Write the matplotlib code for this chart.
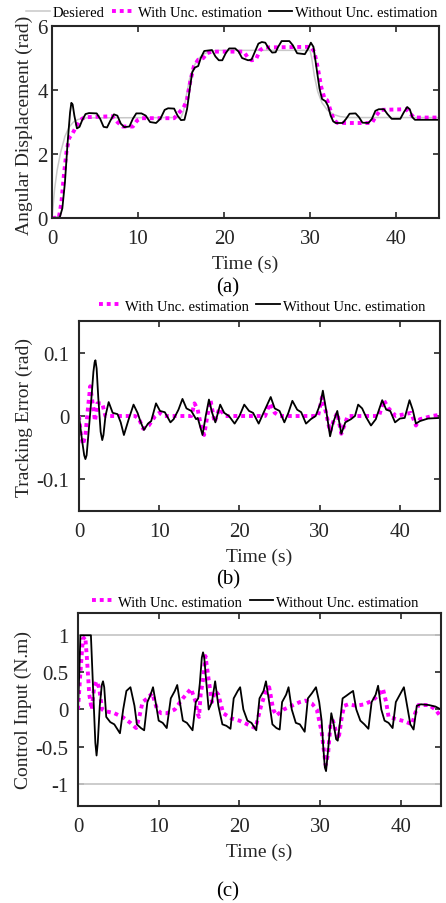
import numpy as np
import matplotlib
matplotlib.use("Agg")
import matplotlib.pyplot as plt

# ---------------- data ----------------
# (a) angular displacement
t_des = [0, 0.3, 0.6, 1.0, 1.5, 2.0, 2.5, 3.0, 4.0, 15.0, 15.3, 15.6, 16.0, 16.5, 17.0, 17.6,
         18.5, 19.5, 30.0, 30.2, 30.5, 30.9, 31.4, 32.0, 32.7, 33.5, 34.5, 45]
y_des = [0, 0.9, 1.5, 2.05, 2.55, 2.85, 3.0, 3.08, 3.13, 3.14, 3.35, 3.8, 4.35, 4.75, 4.97, 5.12,
         5.22, 5.24, 5.24, 5.0, 4.45, 3.95, 3.6, 3.38, 3.24, 3.17, 3.14, 3.14]

t_with_a = [0, 0.8, 1.1, 1.4, 1.7, 2.0, 2.4, 2.8, 3.2, 3.8, 7.0, 7.6, 8.2, 9.4, 9.9, 10.4, 14.2,
            14.8, 15.3, 15.7, 16.1, 16.5, 17.0, 17.6, 18.0, 18.6, 22.3, 22.8, 23.2, 23.7, 24.2,
            24.7, 30.1, 30.5, 30.9, 31.3, 31.7, 32.0, 32.4, 32.8, 33.2, 37.2, 37.7, 38.2, 41.2,
            41.7, 42.1, 45]
y_with_a = [0, 0.02, 0.5, 1.4, 2.1, 2.5, 2.65, 2.85, 3.05, 3.15, 3.18, 3.0, 2.86, 2.86, 3.05, 3.12,
            3.12, 3.3, 3.45, 3.7, 4.3, 4.75, 4.95, 5.0, 5.15, 5.2, 5.2, 5.0, 4.93, 4.95, 5.25,
            5.33, 5.35, 5.2, 4.7, 4.1, 3.72, 3.68, 3.35, 3.05, 2.97, 2.97, 3.2, 3.38, 3.4,
            3.25, 3.14, 3.14]

t_wo_a = [0, 0.9, 1.2, 1.5, 1.8, 2.1, 2.25, 2.4, 2.6, 2.9, 3.2, 3.5, 3.9, 4.3, 5.2, 5.6, 6.0, 6.4,
          6.8, 7.2, 7.6, 8.0, 8.4, 9.0, 9.4, 9.8, 10.4, 10.9, 11.4, 12.1, 12.6, 13.1, 13.5, 14.2,
          14.6, 15.0, 15.4, 15.7, 16.0, 16.3, 16.6, 17.0, 17.3, 17.7, 18.6, 19.0, 19.4, 19.8, 20.2,
          20.6, 21.3, 21.7, 22.1, 22.8, 23.2, 23.6, 24.0, 24.4, 24.8, 25.2, 25.6, 26.0, 26.3, 26.7,
          27.6, 28.0, 28.5, 29.4, 29.8, 30.1, 30.4, 30.7, 31.1, 31.4, 31.8, 32.1, 32.4, 32.7, 33.0,
          33.8, 34.2, 34.6, 35.3, 35.7, 36.1, 36.8, 37.2, 37.6, 38.0, 38.6, 39.0, 39.5, 40.5, 40.9,
          41.3, 41.6, 41.9, 42.2, 45]
y_wo_a = [0, 0.02, 0.3, 1.1, 2.3, 3.3, 3.6, 3.55, 3.2, 2.8, 2.85, 3.05, 3.25, 3.28, 3.27, 3.1, 2.85,
          2.83, 3.05, 3.24, 3.2, 2.95, 2.84, 2.86, 3.1, 3.27, 3.27, 3.2, 3.0, 2.97, 3.1, 3.38, 3.43,
          3.42, 3.2, 3.06, 3.07, 3.4, 4.0, 4.55, 4.7, 4.75, 5.0, 5.22, 5.25, 5.05, 4.93, 4.93, 5.15,
          5.3, 5.3, 5.2, 5.0, 4.93, 4.95, 5.2, 5.45, 5.5, 5.48, 5.3, 5.17, 5.18, 5.35, 5.53, 5.53,
          5.4, 5.15, 5.12, 5.3, 5.48, 5.35, 4.8, 4.05, 3.72, 3.65, 3.5, 3.2, 3.02, 2.97, 2.97, 3.1,
          3.26, 3.27, 3.15, 2.98, 2.97, 3.1, 3.35, 3.4, 3.4, 3.25, 3.1, 3.1, 3.3, 3.47, 3.4, 3.15,
          3.07, 3.07]

# (b) tracking error
t_with_b = [0, 0.25, 0.5, 0.8, 1.1, 1.4, 1.7, 2.0, 2.3, 2.9, 3.3, 4.0, 7.0, 7.5, 8.0, 8.7, 9.5, 10.0,
            10.6, 14.0, 14.4, 14.8, 15.2, 15.6, 16.0, 16.4, 16.9, 17.5, 18.2, 23.2, 23.8, 24.4,
            25.0, 29.8, 30.3, 30.8, 31.3, 31.8, 32.2, 32.7, 33.5, 37.4, 38.0, 38.6, 39.5, 41.4,
            42.0, 42.5, 44.0, 45]
e_with_b = [0, -0.03, -0.045, -0.03, 0.01, 0.047, 0.02, -0.008, 0.02, 0.02, 0.0, 0.0, 0.0, -0.005,
            -0.02, -0.015, 0.0, 0.005, 0.0, 0.0, 0.02, 0.01, -0.015, -0.03, 0.0, 0.025, -0.01, 0.012,
            0.0, 0.0, 0.02, 0.005, 0.0, 0.0, 0.03, 0.005, -0.025, -0.005, 0.005, -0.028, 0.0, 0.0,
            0.025, 0.012, 0.0, 0.005, -0.015, -0.005, 0.0, 0.002]

t_wo_b = [0, 0.4, 0.65, 0.8, 0.95, 1.1, 1.5, 1.8, 1.95, 2.05, 2.2, 2.4, 2.7, 2.9, 3.05, 3.3, 3.7,
          4.2, 4.8, 5.2, 5.6, 6.2, 6.8, 7.3, 7.7, 8.1, 8.6, 9.0, 9.6, 10.1, 10.7, 11.4, 11.8, 12.4,
          12.9, 13.4, 14.0, 14.6, 14.8, 15.0, 15.4, 15.8, 16.2, 16.6, 17.0, 17.6, 18.1, 18.7, 19.4,
          20.0, 20.6, 21.2, 21.7, 22.4, 23.0, 23.9, 24.4, 25.0, 25.6, 26.1, 26.6, 27.2, 27.7, 28.3,
          28.9, 29.5, 30.1, 30.4, 30.8, 31.3, 31.7, 32.2, 32.7, 33.2, 33.9, 34.4, 34.8, 35.3, 35.8,
          36.4, 37.0, 37.8, 38.3, 38.8, 39.4, 40.0, 40.6, 41.2, 41.6, 42.0, 42.5, 43.5, 45]
e_wo_b = [0, -0.04, -0.062, -0.068, -0.062, -0.04, 0.02, 0.07, 0.085, 0.088, 0.075, 0.03, -0.025,
          -0.038, -0.03, 0.0, 0.022, 0.005, 0.003, -0.01, -0.03, -0.005, 0.018, 0.005, -0.01,
          -0.022, -0.012, -0.008, 0.02, 0.008, 0.006, -0.01, -0.005, 0.01, 0.027, 0.012, 0.008,
          -0.005, -0.003, -0.012, -0.03, 0.0, 0.026, 0.005, -0.01, 0.018, 0.005, 0.0, -0.012, 0.0,
          0.018, 0.008, 0.005, -0.012, 0.005, 0.03, 0.012, 0.008, -0.01, 0.005, 0.024, 0.01, 0.006,
          -0.012, -0.005, 0.0, 0.02, 0.04, 0.01, -0.032, -0.01, 0.008, -0.028, -0.01, -0.005, 0.0,
          0.018, 0.012, -0.002, -0.015, -0.005, 0.025, 0.01, 0.008, -0.01, -0.004, -0.003, 0.025,
          0.01, -0.012, -0.008, -0.004, -0.003]

# (c) control input
u_limit = 1.0
t_with_c = [0, 0.3, 0.6, 0.9, 1.1, 1.4, 1.7, 2.0, 2.3, 2.6, 3.0, 3.3, 4.5, 5.5, 6.5, 7.2, 7.6, 8.0,
            8.6, 9.2, 9.8, 10.3, 11.0, 12.0, 13.0, 14.0, 14.6, 14.8, 15.0, 15.2, 15.5, 15.8, 16.2,
            16.6, 17.0, 17.4, 18.0, 19.0, 20.0, 21.0, 22.0, 22.7, 23.3, 23.7, 24.2, 24.6, 25.5,
            26.5, 27.5, 28.2, 29.0, 29.6, 30.2, 30.7, 31.0, 31.3, 31.6, 32.0, 32.3, 32.7, 33.0,
            33.5, 34.5, 35.5, 36.5, 37.3, 37.8, 38.2, 38.5, 39.5, 40.5, 41.4, 41.8, 42.2, 43.5,
            44.3, 45]
u_with_c = [0, 0.5, 0.95, 0.98, 0.7, 0.2, 0.0, 0.3, 0.38, 0.3, 0.0, -0.02, -0.05, -0.1, -0.18,
            -0.25, -0.1, 0.1, 0.15, 0.22, 0.0, -0.05, -0.05, 0.0, 0.15, 0.28, 0.1, -0.05, -0.1,
            0.2, 0.4, 0.72, 0.4, 0.1, 0.25, 0.2, -0.05, -0.12, -0.15, -0.2, -0.25, 0.05, 0.25,
            0.3, 0.0, -0.08, 0.0, 0.05, 0.1, 0.12, 0.08, 0.0, -0.3, -0.75, -0.6, -0.2, -0.15,
            -0.3, -0.4, -0.1, 0.05, 0.07, 0.05, 0.07, 0.12, 0.2, 0.28, 0.1, -0.1, -0.13, -0.16,
            -0.2, -0.05, 0.06, 0.06, 0.0, -0.1]

t_wo_c = [0, 0.1, 0.3, 1.6, 1.9, 2.15, 2.3, 2.45, 2.7, 2.95, 3.1, 3.25, 3.5, 4.0, 4.5, 5.2, 5.6, 6.0,
          6.5, 7.0, 7.3, 7.8, 8.2, 8.6, 9.0, 9.3, 9.7, 10.0, 10.5, 11.0, 11.5, 12.0, 12.3, 12.7,
          13.0, 13.5, 14.2, 14.6, 14.9, 15.1, 15.35, 15.5, 15.65, 15.8, 16.2, 16.6, 17.0, 17.4,
          17.9, 18.4, 18.9, 19.3, 19.8, 20.1, 20.5, 21.0, 21.5, 22.1, 22.5, 23.0, 23.3, 23.7, 24.1,
          24.6, 25.0, 25.3, 25.8, 26.1, 26.5, 27.0, 27.5, 28.1, 28.5, 29.0, 29.5, 29.9, 30.2, 30.4,
          30.6, 30.75, 31.0, 31.4, 31.7, 32.0, 32.2, 32.5, 32.8, 33.2, 33.7, 34.1, 34.5, 35.0, 35.5,
          36.0, 36.4, 36.9, 37.2, 37.6, 38.0, 38.5, 39.0, 39.4, 39.9, 40.4, 40.8, 41.2, 41.6, 42.0,
          42.5, 43.5, 44.3, 45]
u_wo_c = [0, 0.3, 1.0, 1.0, 0.2, -0.45, -0.62, -0.45, 0.05, 0.33, 0.38, 0.3, -0.1, -0.17, -0.2,
          -0.32, 0.0, 0.25, 0.3, 0.05, -0.2, -0.25, -0.28, 0.1, 0.2, 0.3, 0.05, -0.15, -0.18, -0.25,
          0.15, 0.25, 0.33, 0.05, -0.15, -0.18, -0.28, 0.1, 0.15, 0.35, 0.7, 0.77, 0.7, 0.5, 0.0,
          0.1, 0.38, 0.05, -0.2, -0.22, -0.26, 0.15, 0.25, 0.3, 0.0, -0.15, -0.18, -0.28, 0.15,
          0.25, 0.38, 0.1, -0.2, -0.25, -0.27, 0.1, 0.2, 0.3, 0.0, -0.18, -0.2, -0.3, 0.15, 0.22,
          0.3, 0.1, -0.15, -0.5, -0.78, -0.83, -0.55, -0.05, -0.2, -0.4, -0.42, -0.15, 0.15, 0.18,
          0.22, 0.25, 0.0, -0.15, -0.2, -0.26, 0.1, 0.2, 0.32, 0.0, -0.15, -0.18, -0.25, 0.1, 0.2,
          0.3, 0.05, -0.2, -0.27, 0.05, 0.07, 0.06, 0.04, 0.0]

# ---------------- style ----------------
plt.rcParams['font.family'] = ['Liberation Serif', 'DejaVu Serif']
plt.rcParams['axes.unicode_minus'] = False

TXT = '#262626'
GRAY = '#c8c8c8'
MAG = '#ff00ff'
DOT = (0, (1, 1))

fig = plt.figure(figsize=(4.46, 9.04), dpi=100)
ax_a = fig.add_axes([0.1166, 0.7577, 0.8677, 0.2124])
ax_b = fig.add_axes([0.1771, 0.4336, 0.8094, 0.2102])
ax_c = fig.add_axes([0.1749, 0.1073, 0.8139, 0.2135])


def style_axes(ax, ypad):
    ax.set_xlim(0, 45)
    ax.set_xticks([0, 10, 20, 30, 40])
    ax.tick_params(direction='in', length=4, width=1.2, top=True, right=True,
                   labelsize=15, colors=TXT)
    ax.tick_params(axis='x', pad=8)
    ax.tick_params(axis='y', pad=ypad)
    for sp in ax.spines.values():
        sp.set_linewidth(1.5)
        sp.set_color(TXT)
    ax.set_xlabel('Time (s)', fontsize=14, color=TXT, labelpad=5)


leg_kw = dict(ncol=3, frameon=False, fontsize=10.5, handlelength=1.6, handletextpad=0.2,
              columnspacing=0.5, borderaxespad=0, borderpad=0, loc='center')

# (a)
ax_a.plot(t_des, y_des, color=GRAY, lw=1.1, label='Desiered')
ax_a.plot(t_with_a, y_with_a, color=MAG, lw=2.8, ls=DOT, label='With Unc. estimation')
ax_a.plot(t_wo_a, y_wo_a, color='black', lw=1.3, label='Without Unc. estimation')
ax_a.set_ylim(0, 6)
ax_a.set_yticks([0, 2, 4, 6])
style_axes(ax_a, 3)
ax_a.set_ylabel('Angular Displacement (rad)', fontsize=14, color=TXT)
ax_a.yaxis.set_label_coords(-0.05, 0.49)
ax_a.legend(bbox_to_anchor=(0.465, 1.073), **leg_kw)
fig.text(0.511, 1 - 288 / 904, '(a)', ha='center', va='center', fontsize=15, color='black')

# (b)
ax_b.plot(t_with_b, e_with_b, color=MAG, lw=2.8, ls=DOT, label='With Unc. estimation')
ax_b.plot(t_wo_b, e_wo_b, color='black', lw=1.3, label='Without Unc. estimation')
ax_b.set_ylim(-0.15, 0.15)
ax_b.set_yticks([-0.1, 0, 0.1])
ax_b.set_yticklabels(['-0.1', '0', '0.1'])
style_axes(ax_b, 7)
ax_b.set_ylabel('Tracking Error (rad)', fontsize=14, color=TXT)
ax_b.yaxis.set_label_coords(-0.127, 0.5)
ax_b.legend(bbox_to_anchor=(0.507, 1.079), **leg_kw)
fig.text(0.511, 1 - 580 / 904, '(b)', ha='center', va='center', fontsize=15, color='black')

# (c)
ax_c.axhline(u_limit, color=GRAY, lw=1.3)
ax_c.axhline(-u_limit, color=GRAY, lw=1.3)
ax_c.plot(t_with_c, u_with_c, color=MAG, lw=2.8, ls=DOT, label='With Unc. estimation')
ax_c.plot(t_wo_c, u_wo_c, color='black', lw=1.3, label='Without Unc. estimation')
ax_c.set_ylim(-1.3, 1.3)
ax_c.set_yticks([-1, -0.5, 0, 0.5, 1])
ax_c.set_yticklabels(['-1', '-0.5', '0', '0.5', '1'])
style_axes(ax_c, 7)
ax_c.set_ylabel('Control Input (N.m)', fontsize=14, color=TXT)
ax_c.yaxis.set_label_coords(-0.127, 0.5)
ax_c.legend(bbox_to_anchor=(0.488, 1.057), **leg_kw)
fig.text(0.511, 1 - 892 / 904, '(c)', ha='center', va='center', fontsize=15, color='black')

fig.savefig('out.png', dpi=100)
